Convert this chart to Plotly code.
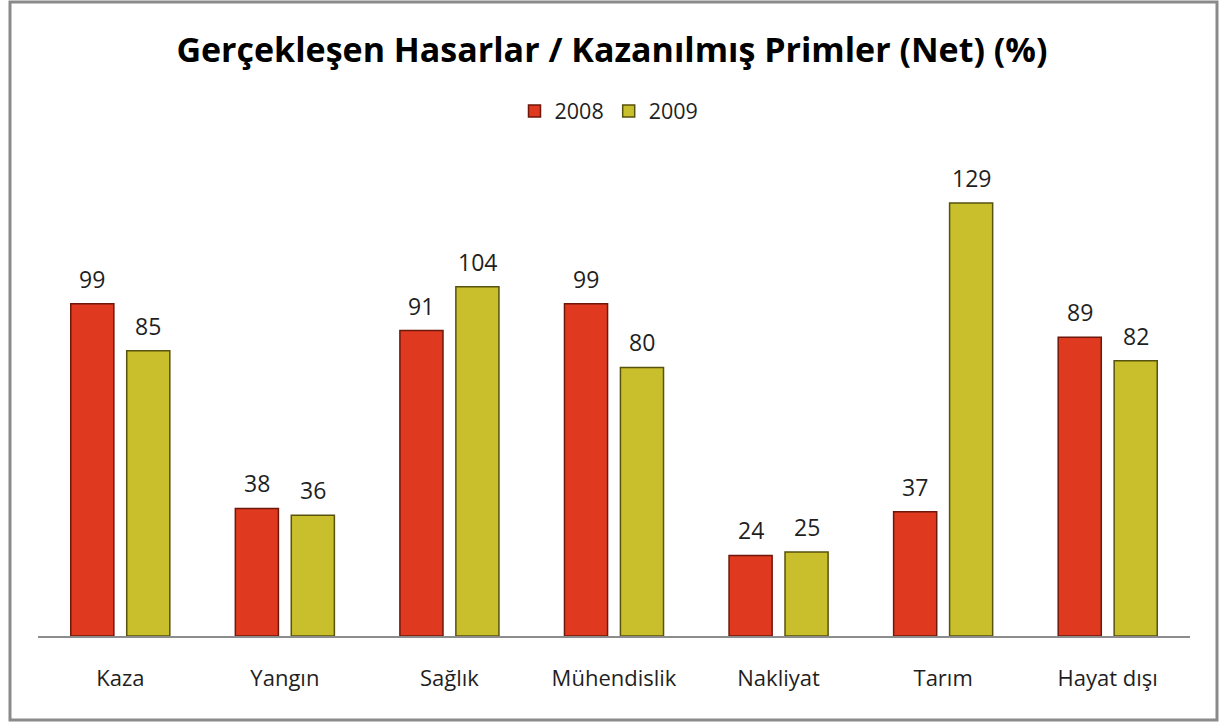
import plotly.graph_objects as go

categories = ["Kaza", "Yangın", "Sağlık", "Mühendislik", "Nakliyat", "Tarım", "Hayat dışı"]
values_2008 = [99, 38, 91, 99, 24, 37, 89]
values_2009 = [85, 36, 104, 80, 25, 129, 82]
series_names = ["2008", "2009"]

W, H = 1219, 722
L, R, T, B = 38, 29, 166, 86
FONT = "Open Sans"
TXT = "#1f1f1f"
bargap = 0.32
bargroupgap = 0.23

plot_w = W - L - R
cat_w = plot_w / len(categories)
slot = (1 - bargap) * cat_w / 2

fig = go.Figure()
colors = [("#DF3A1F", "#6e170a"), ("#C9BF2C", "#57520e")]
for name, vals, (fc, lc) in zip(series_names, [values_2008, values_2009], colors):
    fig.add_trace(go.Bar(
        x=categories, y=vals, name=name,
        marker=dict(color=fc, line=dict(color=lc, width=1.5)),
        hoverinfo="x+y",
    ))

annotations = []
for i, vals in enumerate([values_2008, values_2009]):
    shift = (i - 0.5) * slot
    for c, v in zip(categories, vals):
        annotations.append(dict(
            x=c, y=v, text=str(v), showarrow=False, xshift=shift, yshift=25,
            font=dict(family=FONT, size=23, color=TXT),
        ))

fig.update_layout(
    width=W, height=H,
    margin=dict(l=L, r=R, t=T, b=B),
    paper_bgcolor="white", plot_bgcolor="white",
    barmode="group", bargap=bargap, bargroupgap=bargroupgap,
    title=dict(text="<b>Gerçekleşen Hasarlar / Kazanılmış Primler (Net) (%)</b>",
               x=0.502, xanchor="center", y=1 - 50 / H, yanchor="middle",
               font=dict(family=FONT, size=34, color="#000000")),
    legend=dict(orientation="h", x=0.5 - 5 / plot_w, xanchor="center", y=1 + (T - 111) / (H - T - B),
                yanchor="middle", font=dict(family=FONT, size=21.5, color=TXT),
                itemwidth=30, tracegroupgap=0),
    xaxis=dict(showline=True, linecolor="#8c8c8c", linewidth=1.5,
               ticks="outside", ticklen=22, tickcolor="rgba(0,0,0,0)",
               tickfont=dict(family=FONT, size=22, color=TXT), showgrid=False),
    yaxis=dict(range=[0, 140], visible=False, showgrid=False),
    annotations=annotations,
    showlegend=True,
)

ph = H - T - B
fig.add_shape(type="rect", xref="paper", yref="paper",
              x0=(10 - L) / plot_w, x1=(1217 - L) / plot_w,
              y0=(H - 720 - B) / ph, y1=(H - 2 - B) / ph,
              line=dict(color="#8a8a8a", width=3), fillcolor="rgba(0,0,0,0)", layer="below")

fig.write_html("out.html", config={"displayModeBar": False},
               post_script="document.body.style.margin='0';document.body.style.overflow='hidden';")
